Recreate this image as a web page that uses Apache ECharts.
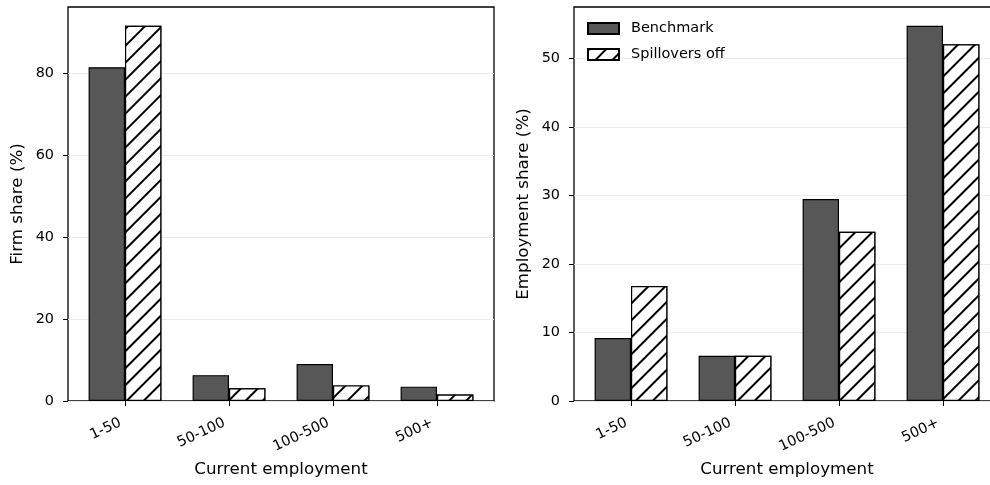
<!DOCTYPE html>
<html>
<head>
<meta charset="utf-8">
<script src="https://cdn.jsdelivr.net/npm/echarts@6/dist/echarts.min.js"></script>
<style>
html,body{margin:0;padding:0;background:#fff;}
#chart{width:990px;height:485px;}
</style>
</head>
<body>
<div id="chart"></div>
<script>
const categories = ['1-50', '50-100', '100-500', '500+'];
const seriesNames = ['Benchmark', 'Spillovers off'];
const firmBenchmark = [81.4, 6.3, 9.0, 3.5];
const firmSpillOff = [91.5, 3.1, 3.8, 1.6];
const empBenchmark = [9.2, 6.6, 29.5, 54.8];
const empSpillOff = [16.8, 6.6, 24.7, 52.1];
const firmTicks = [0, 20, 40, 60, 80];
const empTicks = [0, 10, 20, 30, 40, 50];

const FONT = 'DejaVu Sans';
const firmMax = Math.max(...firmBenchmark, ...firmSpillOff) * 1.05;
const empMax = Math.max(...empBenchmark, ...empSpillOff) * 1.05;

const hatch = {
  symbol: 'rect',
  symbolSize: 1,
  dashArrayX: [1, 0],
  dashArrayY: [1.4, 9.6],
  rotation: -Math.PI / 4,
  color: '#000',
  backgroundColor: '#fff'
};

function frameY(name, max, ticks) {
  return {
    type: 'value', min: 0, max: max,
    name: name, nameLocation: 'middle', nameGap: 42, nameRotate: 90,
    nameTextStyle: { fontFamily: FONT, fontSize: 16.7, color: '#000' },
    axisLine: { show: false },
    axisTick: { show: true, length: 5, customValues: ticks, lineStyle: { color: '#000', width: 1 } },
    axisLabel: { customValues: ticks, fontFamily: FONT, fontSize: 14.4, color: '#000', margin: 14 },
    splitLine: { show: true, lineStyle: { color: '#ebebeb', width: 1 } }
  };
}
function hiddenY(max, gi) {
  return { gridIndex: gi, type: 'value', min: 0, max: max, show: false, splitLine: { show: false } };
}
function catX(gi) {
  return {
    gridIndex: gi, type: 'category', data: categories,
    name: 'Current employment', nameLocation: 'middle', nameGap: 60,
    nameTextStyle: { fontFamily: FONT, fontSize: 16.7, color: '#000' },
    axisLine: { show: false },
    axisTick: { show: true, alignWithLabel: true, length: 5, lineStyle: { color: '#000', width: 1 } },
    axisLabel: { rotate: 25, fontFamily: FONT, fontSize: 14.4, color: '#000', margin: 19, padding: [0, 5, 0, 0], interval: 0 },
    splitLine: { show: false }
  };
}
function bar(name, data, xi, yi) {
  const isBench = name === seriesNames[0];
  return {
    name: name, type: 'bar', xAxisIndex: xi, yAxisIndex: yi, data: data,
    barWidth: 36.4, barGap: '0%',
    itemStyle: isBench
      ? { color: '#575757', borderColor: '#000', borderWidth: 1.2 }
      : { color: '#ffffff', borderColor: '#000', borderWidth: 1.2, decal: hatch },
    emphasis: { disabled: true }
  };
}
function grid(left, width, frame) {
  const g = { left: left, top: 7, width: width, height: 394, outerBoundsMode: 'none', containLabel: false };
  if (frame) Object.assign(g, { show: true, borderColor: '#000', borderWidth: 1.3, backgroundColor: 'transparent' });
  return g;
}

const chart = echarts.init(document.getElementById('chart'), null, { renderer: 'canvas' });
chart.setOption({
  animation: false,
  backgroundColor: '#fff',
  textStyle: { fontFamily: FONT },
  legend: {
    data: seriesNames, left: 582, top: 16, orient: 'vertical',
    icon: 'rect', itemWidth: 31, itemHeight: 11, itemGap: 11,
    selectedMode: false,
    textStyle: { fontFamily: FONT, fontSize: 14.5, color: '#000', padding: [0, 0, 0, 7] }
  },
  grid: [
    grid(68, 426, true),
    grid(73, 416, false),
    grid(574, 426, true),
    grid(579, 416, false)
  ],
  xAxis: [
    { gridIndex: 0, type: 'value', min: 0, max: 1, show: false, splitLine: { show: false } },
    catX(1),
    { gridIndex: 2, type: 'value', min: 0, max: 1, show: false, splitLine: { show: false } },
    catX(3)
  ],
  yAxis: [
    Object.assign({ gridIndex: 0 }, frameY('Firm share (%)', firmMax, firmTicks)),
    hiddenY(firmMax, 1),
    Object.assign({ gridIndex: 2 }, frameY('Employment share (%)', empMax, empTicks)),
    hiddenY(empMax, 3)
  ],
  series: [
    bar(seriesNames[0], firmBenchmark, 1, 1),
    bar(seriesNames[1], firmSpillOff, 1, 1),
    bar(seriesNames[0], empBenchmark, 3, 3),
    bar(seriesNames[1], empSpillOff, 3, 3)
  ]
});
</script>
</body>
</html>
